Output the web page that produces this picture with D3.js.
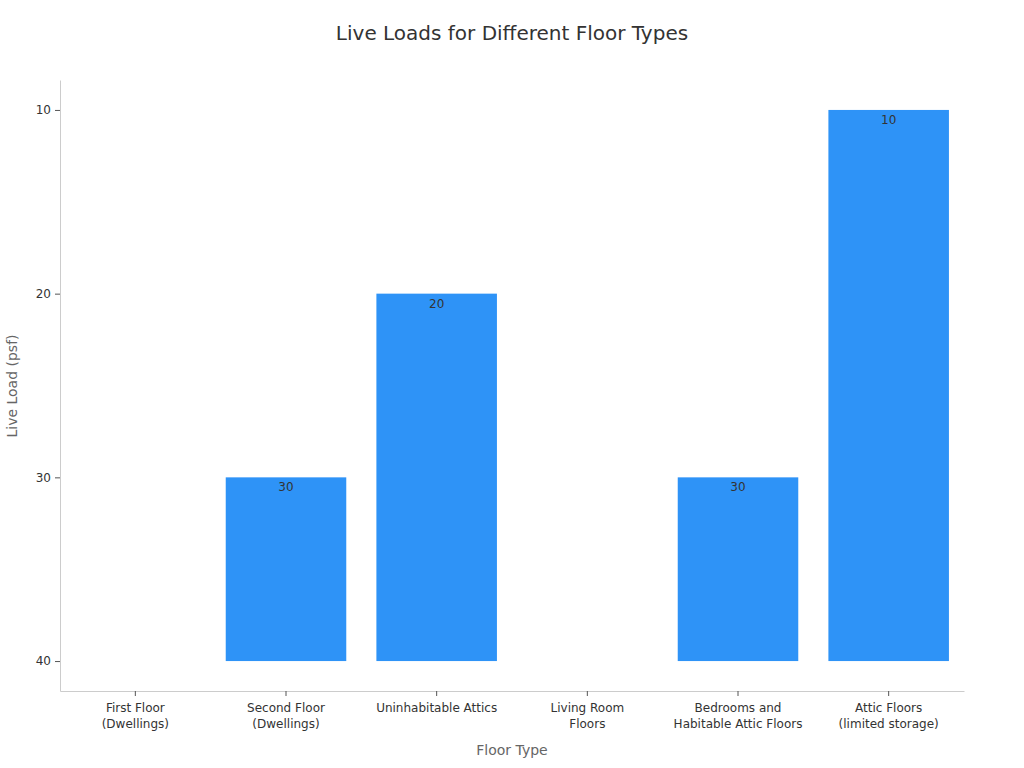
<!DOCTYPE html>
<html><head><meta charset="utf-8">
<script src="https://cdn.jsdelivr.net/npm/d3@7"></script>
<style>body{margin:0;background:#fff}svg{display:block}</style>
</head><body><svg id="c" width="1024" height="768"></svg>
<script>
const categories = [["First Floor","(Dwellings)"],["Second Floor","(Dwellings)"],["Uninhabitable Attics"],["Living Room","Floors"],["Bedrooms and","Habitable Attic Floors"],["Attic Floors","(limited storage)"]];
const values = [40, 30, 20, 40, 30, 10];
const yTicks = [10, 20, 30, 40];

(function(){
const svg = d3.select("#c");
const font = "DejaVu Sans, sans-serif";
const mLeft = 60, mRight = 964, mTop = 80, mBottom = 691;
const x = d3.scaleBand().domain(d3.range(categories.length)).range([mLeft, mRight]).paddingInner(0.2).paddingOuter(0.1);
const y = d3.scaleLinear().domain([8.37, 41.63]).range([mTop, mBottom]);

svg.append("text").attr("x", 512).attr("y", 40).attr("text-anchor", "middle")
  .attr("font-family", font).attr("font-size", 20).attr("fill", "#333").text("Live Loads for Different Floor Types");

const base = 40;
svg.append("g").selectAll("rect").data(values).join("rect")
  .attr("x", (d,i) => x(i)).attr("width", x.bandwidth())
  .attr("y", d => y(Math.min(d, base))).attr("height", d => Math.abs(y(base) - y(d)))
  .attr("fill", "#2E93F7");

svg.append("g").selectAll("text").data(values.map((v,i)=>({v,i})).filter(d => d.v !== base)).join("text")
  .attr("x", d => x(d.i) + x.bandwidth()/2).attr("y", d => y(d.v) + 14)
  .attr("text-anchor", "middle").attr("font-family", font).attr("font-size", 12).attr("fill", "#333")
  .text(d => d.v);

const ya = svg.append("g").attr("transform", `translate(${mLeft},0)`)
  .call(d3.axisLeft(y).tickValues(yTicks).tickSize(5).tickSizeOuter(0));
ya.select(".domain").attr("stroke", "#ccc");
ya.selectAll(".tick line").attr("stroke", "#555");
ya.selectAll(".tick text").attr("font-family", font).attr("font-size", 12).attr("fill", "#333").attr("dx", "-1");

const xa = svg.append("g").attr("transform", `translate(0,${mBottom})`)
  .call(d3.axisBottom(x).tickSize(5).tickSizeOuter(0).tickFormat(""));
xa.select(".domain").attr("stroke", "#ccc");
xa.selectAll(".tick line").attr("stroke", "#555");
xa.selectAll(".tick").each(function(d){
  const t = d3.select(this).append("text").attr("font-family", font).attr("font-size", 12)
    .attr("fill", "#333").attr("text-anchor", "middle");
  categories[d].forEach((line, k) => {
    t.append("tspan").attr("x", 0).attr("y", 21 + k*16).text(line);
  });
});

svg.append("text").attr("x", 512).attr("y", 755).attr("text-anchor", "middle")
  .attr("font-family", font).attr("font-size", 14).attr("fill", "#666").text("Floor Type");
svg.append("text").attr("transform", "translate(17,386) rotate(-90)").attr("text-anchor", "middle")
  .attr("font-family", font).attr("font-size", 14).attr("fill", "#666").text("Live Load (psf)");
})();
</script></body></html>
